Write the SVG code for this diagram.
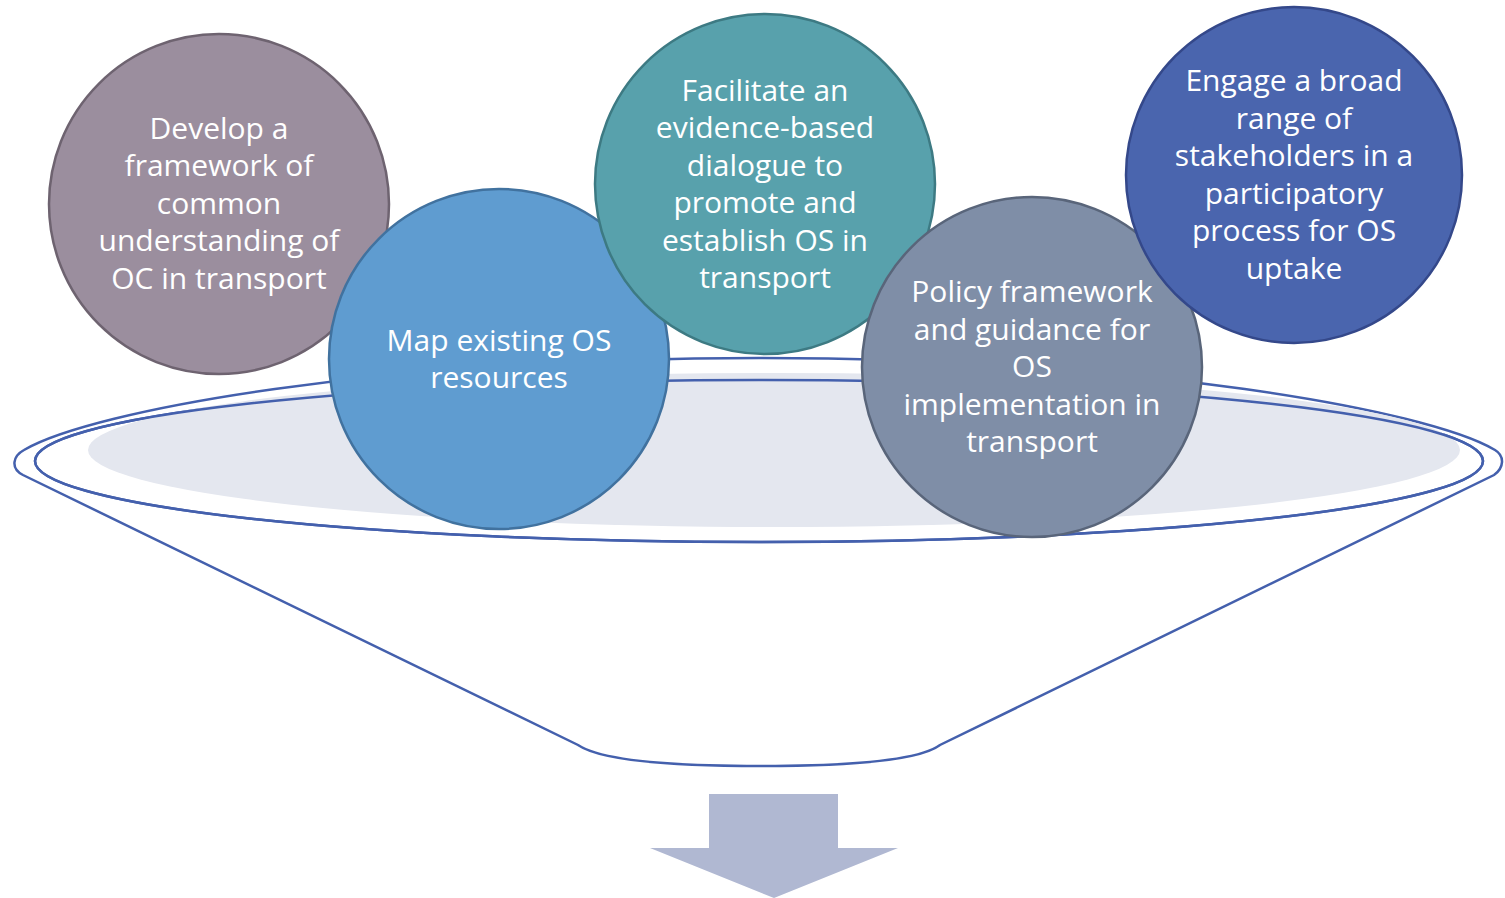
<svg xmlns="http://www.w3.org/2000/svg" width="1505" height="898" viewBox="0 0 1505 898">
<style>
.rim{fill:none;stroke:#4460AD;stroke-width:2.5}
.c{stroke-width:2.5}
.t{font-family:"Open Sans","Liberation Sans",sans-serif;font-size:30px;fill:#ffffff;text-anchor:middle}
</style>
<rect width="1505" height="898" fill="#ffffff"/>
<g id="funnel">
<path d="M 23 475 C 10 468 13 456 24 450 C 92 410 380 358 759 358 C 1140 358 1428 410 1495 450 C 1505 456 1504 468 1494 475 L 940 745 C 920 760 850 766 760 766 C 670 766 600 760 578 745 Z" fill="#ffffff" stroke="#4460AD" stroke-width="2.5"/>
<ellipse cx="759" cy="461" rx="724" ry="81" fill="#F4F5F9" class="rim"/>
<ellipse cx="774" cy="450" rx="686" ry="77" fill="#E4E7EF"/>
<ellipse cx="759" cy="461" rx="724" ry="81" class="rim"/>
</g>
<g id="arrow">
<polygon points="709,794 838,794 838,848 898,848 774,898 650,848 709,848" fill="#B0B8D2"/>
</g>
<g id="node1">
<circle cx="219" cy="204" r="170" fill="#9B8E9E" stroke="#6E6370" class="c"/>
<text class="t"><tspan x="219" y="139">Develop a</tspan><tspan x="219" y="176">framework of</tspan><tspan x="219" y="214">common</tspan><tspan x="219" y="251">understanding of</tspan><tspan x="219" y="289">OC in transport</tspan></text>
</g>
<g id="node2">
<circle cx="499" cy="359" r="170" fill="#5F9CD0" stroke="#41729F" class="c"/>
<text class="t"><tspan x="499" y="351">Map existing OS</tspan><tspan x="499" y="388">resources</tspan></text>
</g>
<g id="node3">
<circle cx="765" cy="184" r="170" fill="#58A1AC" stroke="#3D7A83" class="c"/>
<text class="t"><tspan x="765" y="101">Facilitate an</tspan><tspan x="765" y="138">evidence-based</tspan><tspan x="765" y="176">dialogue to</tspan><tspan x="765" y="213">promote and</tspan><tspan x="765" y="251">establish OS in</tspan><tspan x="765" y="288">transport</tspan></text>
</g>
<g id="node4">
<circle cx="1032" cy="367" r="170" fill="#7F8EA7" stroke="#59657A" class="c"/>
<text class="t"><tspan x="1032" y="302">Policy framework</tspan><tspan x="1032" y="340">and guidance for</tspan><tspan x="1032" y="377">OS</tspan><tspan x="1032" y="415">implementation in</tspan><tspan x="1032" y="452">transport</tspan></text>
</g>
<g id="node5">
<circle cx="1294" cy="175" r="168" fill="#4A65AE" stroke="#34488A" class="c"/>
<text class="t"><tspan x="1294" y="91">Engage a broad</tspan><tspan x="1294" y="129">range of</tspan><tspan x="1294" y="166">stakeholders in a</tspan><tspan x="1294" y="204">participatory</tspan><tspan x="1294" y="241">process for OS</tspan><tspan x="1294" y="279">uptake</tspan></text>
</g>
</svg>
